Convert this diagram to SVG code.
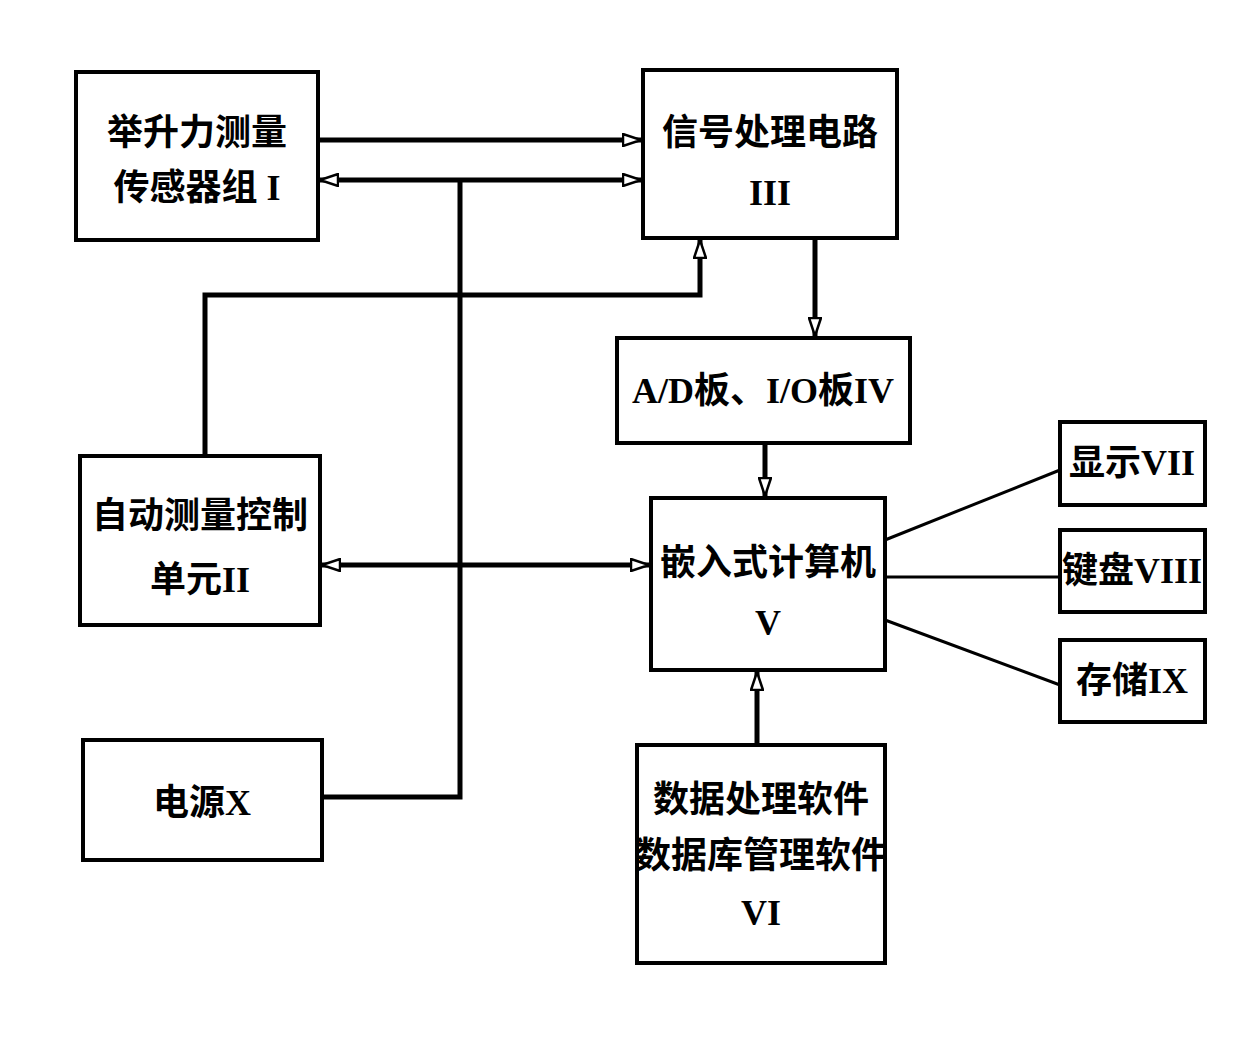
<svg xmlns="http://www.w3.org/2000/svg" width="1236" height="1040" viewBox="0 0 1236 1040">
<style>
.b{fill:#fff;stroke:#000;stroke-width:4}
.t{font-family:"Liberation Serif","Noto Sans CJK SC",serif;font-size:36px;font-weight:bold;text-anchor:middle;fill:#000}
.c{fill:none;stroke:#000;stroke-width:5}
.s{fill:none;stroke:#000;stroke-width:3}
</style>
<defs>
<marker id="a" viewBox="0 0 20 14" refX="19" refY="7" markerWidth="20" markerHeight="14" markerUnits="userSpaceOnUse" orient="auto-start-reverse">
<path d="M1,1 L19,7 L1,13 Z" fill="#fff" stroke="#000" stroke-width="2.5"/>
</marker>
</defs>
<rect width="1236" height="1040" fill="#fff"/>
<g id="connectors">
<line class="c" x1="318" y1="140" x2="641" y2="140" marker-end="url(#a)"/>
<line class="c" x1="320" y1="180" x2="641" y2="180" marker-start="url(#a)" marker-end="url(#a)"/>
<polyline class="c" points="460,180 460,797 322,797"/>
<polyline class="c" points="205,456 205,295 700,295 700,240" marker-end="url(#a)"/>
<line class="c" x1="815" y1="238" x2="815" y2="336" marker-end="url(#a)"/>
<line class="c" x1="765" y1="443" x2="765" y2="496" marker-end="url(#a)"/>
<line class="c" x1="322" y1="565" x2="649" y2="565" marker-start="url(#a)" marker-end="url(#a)"/>
<line class="c" x1="757" y1="745" x2="757" y2="672" marker-end="url(#a)"/>
<line class="s" x1="885" y1="540" x2="1060" y2="470"/>
<line class="s" x1="885" y1="577" x2="1060" y2="577"/>
<line class="s" x1="885" y1="620" x2="1060" y2="685"/>
</g>
<g id="n1"><rect class="b" x="76" y="72" width="242" height="168"/><text class="t" x="197" y="145">举升力测量</text><text class="t" x="197" y="200">传感器组 I</text></g>
<g id="n3"><rect class="b" x="643" y="70" width="254" height="168"/><text class="t" x="770" y="145">信号处理电路</text><text class="t" x="770" y="205">III</text></g>
<g id="n4"><rect class="b" x="617" y="338" width="293" height="105"/><text class="t" x="763" y="403">A/D板、I/O板IV</text></g>
<g id="n5"><rect class="b" x="651" y="498" width="234" height="172"/><text class="t" x="768" y="575">嵌入式计算机</text><text class="t" x="768" y="635">V</text></g>
<g id="n2"><rect class="b" x="80" y="456" width="240" height="169"/><text class="t" x="200" y="528">自动测量控制</text><text class="t" x="200" y="592">单元II</text></g>
<g id="n10"><rect class="b" x="83" y="740" width="239" height="120"/><text class="t" x="202" y="815">电源X</text></g>
<g id="n6"><rect class="b" x="637" y="745" width="248" height="218"/><text class="t" x="761" y="812">数据处理软件</text><text class="t" x="761" y="868">数据库管理软件</text><text class="t" x="761" y="925">VI</text></g>
<g id="n7"><rect class="b" x="1060" y="422" width="145" height="83"/><text class="t" x="1132" y="475">显示VII</text></g>
<g id="n8"><rect class="b" x="1060" y="530" width="145" height="82"/><text class="t" x="1132" y="583">键盘VIII</text></g>
<g id="n9"><rect class="b" x="1060" y="640" width="145" height="82"/><text class="t" x="1132" y="693">存储IX</text></g>
</svg>
